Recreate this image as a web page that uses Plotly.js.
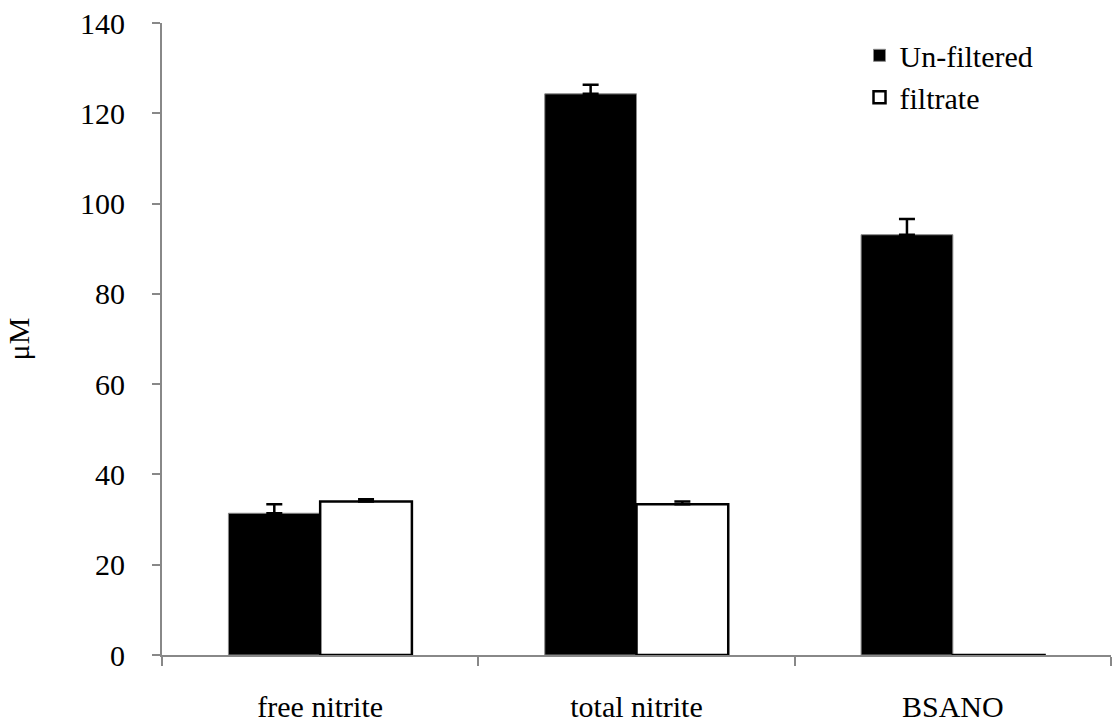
<!DOCTYPE html>
<html><head><meta charset="utf-8">
<script src="https://cdn.plot.ly/plotly-3.0.1.min.js"></script>
<style>html,body{margin:0;padding:0;background:#fff}#chart{width:1113px;height:727px}</style>
</head><body><div id="chart"></div>
<script>
const categories = ["free nitrite", "total nitrite", "BSANO"];
const unfiltered = [31.4, 124.3, 93.1];
const unfilteredErr = [2.0, 2.0, 3.5];
const filtrate = [34.0, 33.4, -0.8];
const filtrateErr = [0.5, 0.6, 0];

const fam = "'Liberation Serif', 'Times New Roman', serif";
const fs = 30;

const traces = [
  {type: "bar", name: "Un-filtered", x: categories, y: unfiltered, legendgroup: "a", cliponaxis: false,
   marker: {color: "#000", line: {color: "#888", width: 1}},
   error_y: {type: "data", array: unfilteredErr, symmetric: false, arrayminus: [0,0,0], color: "#000", thickness: 2.5, width: 8}},
  {type: "bar", name: "filtrate", x: categories, y: filtrate, legendgroup: "b", cliponaxis: false,
   marker: {color: "#fff", line: {color: "#000", width: 2.5}},
   error_y: {type: "data", array: filtrateErr, symmetric: false, arrayminus: [0,0,0], color: "#000", thickness: 2.5, width: 8}}
];

const layout = {
  width: 1113, height: 727,
  margin: {l: 162, r: 2, t: 23, b: 72},
  paper_bgcolor: "#fff", plot_bgcolor: "#fff",
  font: {family: fam, size: fs, color: "#000"},
  barmode: "group", bargap: 0.42, bargroupgap: 0,
  showlegend: true,
  legend: {x: 0.735, y: 0.99, xanchor: "left", yanchor: "top", font: {family: fam, size: fs, color: "#000"},
           bgcolor: "rgba(0,0,0,0)", traceorder: "grouped", tracegroupgap: 0},
  xaxis: {type: "category", showgrid: false, zeroline: false, showline: true, linecolor: "#888", linewidth: 2,
          ticks: "outside", tickson: "boundaries", ticklen: 9, tickwidth: 2, tickcolor: "#888",
          ticklabelstandoff: 24,
          tickfont: {family: fam, size: fs, color: "#000"}, range: [-0.5, 2.5]},
  yaxis: {range: [0, 140], dtick: 20, showgrid: false, zeroline: false, showline: true, linecolor: "#888", linewidth: 2,
          ticks: "outside", ticklen: 8, tickwidth: 2, tickcolor: "#888", ticklabelstandoff: 21,
          tickfont: {family: fam, size: fs, color: "#000"},
          title: {text: "μM", font: {family: fam, size: fs, color: "#000"}, standoff: 42}}
};

Plotly.newPlot("chart", traces, layout, {displayModeBar: false, staticPlot: true});
</script></body></html>
